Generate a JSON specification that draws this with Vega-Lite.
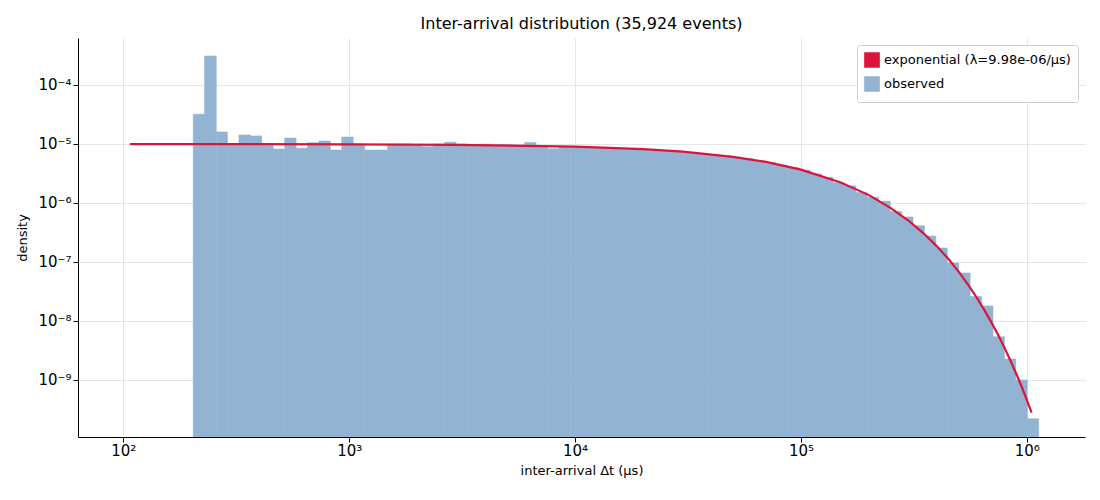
{
  "$schema": "https://vega.github.io/schema/vega-lite/v6.json",
  "width": 1007,
  "height": 399,
  "autosize": "none",
  "padding": {"left": 78, "top": 38, "right": 15, "bottom": 63},
  "title": {"text": "Inter-arrival distribution (35,924 events)", "font": "DejaVu Sans", "fontSize": 16, "fontWeight": "normal", "offset": 6, "color": "black"},
  "config": {
    "view": {"stroke": null},
    "font": "DejaVu Sans",
    "axis": {"domainColor": "black", "tickColor": "black", "labelColor": "black", "titleColor": "black", "labelFontSize": 12, "titleFontSize": 13, "titleFontWeight": "normal", "gridColor": "#e6e6e6", "labelFont": "DejaVu Sans", "titleFont": "DejaVu Sans"}
  },
  "datasets": {
    "hist": [
      {"x0": 204, "x1": 229, "d": 3.2e-5},
      {"x0": 229, "x1": 258, "d": 3.1e-4},
      {"x0": 258, "x1": 289, "d": 1.6e-5},
      {"x0": 289, "x1": 325, "d": 1.0e-5},
      {"x0": 325, "x1": 365, "d": 1.42e-5},
      {"x0": 365, "x1": 410, "d": 1.37e-5},
      {"x0": 410, "x1": 461, "d": 9.5e-6},
      {"x0": 461, "x1": 518, "d": 8.2e-6},
      {"x0": 518, "x1": 582, "d": 1.26e-5},
      {"x0": 582, "x1": 654, "d": 8.5e-6},
      {"x0": 654, "x1": 735, "d": 1.05e-5},
      {"x0": 735, "x1": 825, "d": 1.12e-5},
      {"x0": 825, "x1": 927, "d": 7.9e-6},
      {"x0": 927, "x1": 1042, "d": 1.31e-5},
      {"x0": 1042, "x1": 1171, "d": 1.0e-5},
      {"x0": 1171, "x1": 1315, "d": 7.9e-6},
      {"x0": 1315, "x1": 1478, "d": 7.9e-6},
      {"x0": 1478, "x1": 1660, "d": 1.0e-5},
      {"x0": 1660, "x1": 1866, "d": 1.0e-5},
      {"x0": 1866, "x1": 2096, "d": 9.3e-6},
      {"x0": 2096, "x1": 2355, "d": 9.0e-6},
      {"x0": 2355, "x1": 2646, "d": 1.0e-5},
      {"x0": 2646, "x1": 2972, "d": 1.07e-5},
      {"x0": 2972, "x1": 3339, "d": 1.0e-5},
      {"x0": 3339, "x1": 3752, "d": 9.8e-6},
      {"x0": 3752, "x1": 4215, "d": 9.9e-6},
      {"x0": 4215, "x1": 4736, "d": 9.7e-6},
      {"x0": 4736, "x1": 5320, "d": 9.8e-6},
      {"x0": 5320, "x1": 5977, "d": 9.6e-6},
      {"x0": 5977, "x1": 6715, "d": 1.06e-5},
      {"x0": 6715, "x1": 7545, "d": 9.4e-6},
      {"x0": 7545, "x1": 8477, "d": 8.3e-6},
      {"x0": 8477, "x1": 9524, "d": 9.1e-6},
      {"x0": 9524, "x1": 10700, "d": 9.0e-6},
      {"x0": 10700, "x1": 12023, "d": 8.9e-6},
      {"x0": 12023, "x1": 13508, "d": 8.8e-6},
      {"x0": 13508, "x1": 15176, "d": 8.65e-6},
      {"x0": 15176, "x1": 17050, "d": 8.5e-6},
      {"x0": 17050, "x1": 19156, "d": 8.3e-6},
      {"x0": 19156, "x1": 21522, "d": 8.15e-6},
      {"x0": 21522, "x1": 24180, "d": 7.95e-6},
      {"x0": 24180, "x1": 27166, "d": 7.7e-6},
      {"x0": 27166, "x1": 30521, "d": 7.5e-6},
      {"x0": 30521, "x1": 34290, "d": 7.2e-6},
      {"x0": 34290, "x1": 38526, "d": 6.9e-6},
      {"x0": 38526, "x1": 43284, "d": 6.6e-6},
      {"x0": 43284, "x1": 48630, "d": 6.3e-6},
      {"x0": 48630, "x1": 54636, "d": 5.97e-6},
      {"x0": 54636, "x1": 61384, "d": 5.6e-6},
      {"x0": 61384, "x1": 68966, "d": 5.2e-6},
      {"x0": 68966, "x1": 77483, "d": 4.8e-6},
      {"x0": 77483, "x1": 87053, "d": 4.39e-6},
      {"x0": 87053, "x1": 97800, "d": 3.97e-6},
      {"x0": 97800, "x1": 109900, "d": 3.6e-6},
      {"x0": 109900, "x1": 123500, "d": 3.1e-6},
      {"x0": 123500, "x1": 138700, "d": 2.7e-6},
      {"x0": 138700, "x1": 155900, "d": 2.2e-6},
      {"x0": 155900, "x1": 175100, "d": 1.95e-6},
      {"x0": 175100, "x1": 196700, "d": 1.5e-6},
      {"x0": 196700, "x1": 221000, "d": 1.25e-6},
      {"x0": 221000, "x1": 248400, "d": 1.07e-6},
      {"x0": 248400, "x1": 279100, "d": 7.2e-7},
      {"x0": 279100, "x1": 313500, "d": 5.8e-7},
      {"x0": 313500, "x1": 352200, "d": 4.1e-7},
      {"x0": 352200, "x1": 395800, "d": 2.75e-7},
      {"x0": 395800, "x1": 444600, "d": 1.73e-7},
      {"x0": 444600, "x1": 499600, "d": 9.6e-8},
      {"x0": 499600, "x1": 561200, "d": 6.5e-8},
      {"x0": 561200, "x1": 630500, "d": 2.6e-8},
      {"x0": 630500, "x1": 708400, "d": 1.8e-8},
      {"x0": 708400, "x1": 795900, "d": 5.4e-9},
      {"x0": 795900, "x1": 894200, "d": 2.27e-9},
      {"x0": 894200, "x1": 1004700, "d": 1.0e-9},
      {"x0": 1004700, "x1": 1128700, "d": 2.2e-10}
    ],
    "fit": [
      {"x": 107, "p": 9.97e-6},
      {"x": 1000, "p": 9.88e-6},
      {"x": 3000, "p": 9.69e-6},
      {"x": 10000, "p": 9.03e-6},
      {"x": 20000, "p": 8.17e-6},
      {"x": 30000, "p": 7.40e-6},
      {"x": 50000, "p": 6.06e-6},
      {"x": 70000, "p": 4.96e-6},
      {"x": 100000, "p": 3.68e-6},
      {"x": 150000, "p": 2.23e-6},
      {"x": 200000, "p": 1.36e-6},
      {"x": 250000, "p": 8.2e-7},
      {"x": 300000, "p": 5.0e-7},
      {"x": 350000, "p": 3.03e-7},
      {"x": 400000, "p": 1.84e-7},
      {"x": 450000, "p": 1.12e-7},
      {"x": 500000, "p": 6.8e-8},
      {"x": 550000, "p": 4.1e-8},
      {"x": 600000, "p": 2.5e-8},
      {"x": 650000, "p": 1.51e-8},
      {"x": 700000, "p": 9.2e-9},
      {"x": 750000, "p": 5.6e-9},
      {"x": 800000, "p": 3.4e-9},
      {"x": 850000, "p": 2.06e-9},
      {"x": 900000, "p": 1.25e-9},
      {"x": 950000, "p": 7.6e-10},
      {"x": 1000000, "p": 4.6e-10},
      {"x": 1050000, "p": 2.8e-10}
    ]
  },
  "layer": [
    {
      "data": {"name": "hist"},
      "mark": {"type": "bar", "clip": true, "binSpacing": 0, "strokeWidth": 0.6, "stroke": "#92b3d1"},
      "encoding": {
        "x": {"field": "x0", "type": "quantitative",
          "scale": {"type": "log", "domain": [63, 1810000], "nice": false},
          "axis": {"values": [100, 1000, 10000, 100000, 1000000], "grid": true, "labelExpr": "{'100':'10²','1000':'10³','10000':'10⁴','100000':'10⁵','1000000':'10⁶'}[datum.value+'']", "labelFontSize": 15, "labelPadding": 1, "titlePadding": 6},
          "title": "inter-arrival Δt (μs)"},
        "x2": {"field": "x1"},
        "y": {"field": "d", "type": "quantitative",
          "scale": {"type": "log", "domain": [1.08e-10, 6.26e-4], "nice": false},
          "axis": {"values": [1e-9, 1e-8, 1e-7, 1e-6, 1e-5, 1e-4], "grid": true, "labelExpr": "{'-9':'10⁻⁹','-8':'10⁻⁸','-7':'10⁻⁷','-6':'10⁻⁶','-5':'10⁻⁵','-4':'10⁻⁴'}[round(log(datum.value)/LN10)+'']", "labelFontSize": 15, "titlePadding": 8},
          "title": "density"},
        "y2": {"datum": 1.08e-10},
        "color": {"datum": "observed", "type": "nominal"}
      }
    },
    {
      "data": {"name": "fit"},
      "mark": {"type": "line", "strokeWidth": 2.2, "clip": true},
      "encoding": {
        "x": {"field": "x", "type": "quantitative"},
        "y": {"field": "p", "type": "quantitative"},
        "color": {"datum": "exponential (λ=9.98e-06/μs)", "type": "nominal",
          "scale": {"domain": ["exponential (λ=9.98e-06/μs)", "observed"], "range": ["#dc143c", "#92b3d1"]},
          "legend": {"title": null, "orient": "top-right", "offset": 7, "strokeColor": "#cccccc", "fillColor": "white", "padding": 7, "cornerRadius": 3, "labelFontSize": 13, "labelLimit": 0, "labelColor": "black", "symbolSize": 200, "symbolType": "square"}
        }
      }
    }
  ]
}
